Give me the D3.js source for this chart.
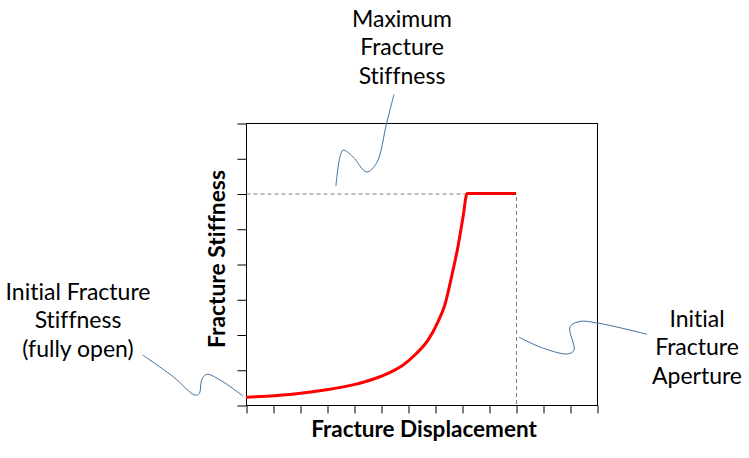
<!DOCTYPE html>
<html>
<head>
<meta charset="utf-8">
<script src="https://cdn.jsdelivr.net/npm/d3@7"></script>
<style>
  body { margin: 0; background: #fff; }
  text { font-family: Lato, "Open Sans", sans-serif; fill: #000; font-variant-ligatures: none; }
</style>
</head>
<body>
<script>
// curve (displacement, stiffness)
var dispX = [0, 0.75, 1.87, 2.98, 3.96, 4.70, 5.32, 5.81, 6.31, 6.74, 7.11, 7.36, 7.64, 7.85, 8.04, 8.19, 10];
var stiff = [0.22, 0.25, 0.32, 0.43, 0.57, 0.73, 0.92, 1.13, 1.46, 1.84, 2.36, 2.83, 3.73, 4.49, 5.34, 6.0, 6.0];

var xTicks = d3.range(0, 14);
var yTicks = d3.range(0, 9);

var maxStiff = 6;
var aperture = 10;

// callout leader lines, in data units
var topCallout = [[3.33, 6.21], [3.48, 7.04], [3.60, 7.23], [3.96, 7.04], [4.47, 6.61], [4.84, 6.87], [5.21, 8.0], [5.48, 8.81]];
var leftCallout = [[-3.83, 1.42], [-2.69, 0.80], [-1.89, 0.28], [-1.73, 0.33], [-1.64, 0.71], [-1.46, 0.87], [-0.96, 0.71], [-0.12, 0.26]];
var rightCallout = [[10.12, 1.92], [11.01, 1.61], [11.94, 1.45], [12.15, 1.56], [12.0, 2.22], [12.37, 2.37], [12.99, 2.33], [14.84, 2.01]];

var svgWidth = 749, svgHeight = 458;
var margin = {top: 123, left: 246, right: 152, bottom: 53};
var width = svgWidth - margin.left - margin.right;
var height = svgHeight - margin.top - margin.bottom;

var svg = d3.select("body").append("svg")
    .attr("width", svgWidth)
    .attr("height", svgHeight);

var g = svg.append("g")
    .attr("transform", "translate(" + margin.left + "," + margin.top + ")");

var xScale = d3.scaleLinear().domain([0, 13]).range([0, width]);
var yScale = d3.scaleLinear().domain([0, 8]).range([height, 0]);

// frame
g.append("rect")
    .attr("x", 0.5).attr("y", 0.5)
    .attr("width", width).attr("height", height)
    .attr("fill", "none")
    .attr("stroke", "#000")
    .attr("stroke-width", 1);

g.append("g")
    .attr("transform", "translate(0.5," + (height + 0.5) + ")")
    .call(d3.axisBottom(xScale).tickValues(xTicks).tickSize(8).tickFormat(""))
    .call(function(s) { s.select(".domain").remove(); });

g.append("g")
    .attr("transform", "translate(0.5,0.5)")
    .call(d3.axisLeft(yScale).tickValues(yTicks).tickSize(9).tickFormat(""))
    .call(function(s) { s.select(".domain").remove(); });

// dashed guides
g.append("path")
    .attr("d", d3.line()([[xScale(0), yScale(maxStiff)], [xScale(aperture), yScale(maxStiff)], [xScale(aperture), yScale(0)]]))
    .attr("transform", "translate(0.5,0.5)")
    .attr("fill", "none")
    .attr("stroke", "#7f7f7f")
    .attr("stroke-dasharray", "4,3")
    .attr("stroke-width", 1);

// stiffness curve
var line = d3.line()
    .x(function(d, i) { return xScale(dispX[i]); })
    .y(function(d) { return yScale(d); })
    .curve(d3.curveMonotoneX);

g.append("path")
    .datum(stiff)
    .attr("d", line)
    .attr("fill", "none")
    .attr("stroke", "#ff0000")
    .attr("stroke-width", 3);

// callouts
var callLine = d3.line()
    .x(function(d) { return xScale(d[0]); })
    .y(function(d) { return yScale(d[1]); })
    .curve(d3.curveCatmullRom);

[topCallout, leftCallout, rightCallout].forEach(function(pts) {
    g.append("path")
        .attr("d", callLine(pts))
        .attr("fill", "none")
        .attr("stroke", "#41719c")
        .attr("stroke-width", 1);
});

// axis titles
svg.append("text")
    .text("Fracture Displacement")
    .attr("text-anchor", "middle")
    .attr("x", 424).attr("y", 437)
    .style("font-weight", "bold")
    .style("font-size", "22.5px");

svg.append("text")
    .text("Fracture Stiffness")
    .attr("text-anchor", "middle")
    .attr("transform", "translate(225,259) rotate(-90)")
    .style("font-weight", "bold")
    .style("font-size", "22.8px");

// annotation labels
function label(lines, cx, y0) {
    var t = svg.append("text").attr("text-anchor", "middle").style("font-size", "23px");
    lines.forEach(function(s, i) {
        t.append("tspan").attr("x", cx).attr("y", y0 + i * 28.3).text(s);
    });
}
label(["Maximum", "Fracture", "Stiffness"], 402, 27);
label(["Initial Fracture", "Stiffness", "(fully open)"], 78, 300);
label(["Initial", "Fracture", "Aperture"], 697, 327);
</script>
</body>
</html>
